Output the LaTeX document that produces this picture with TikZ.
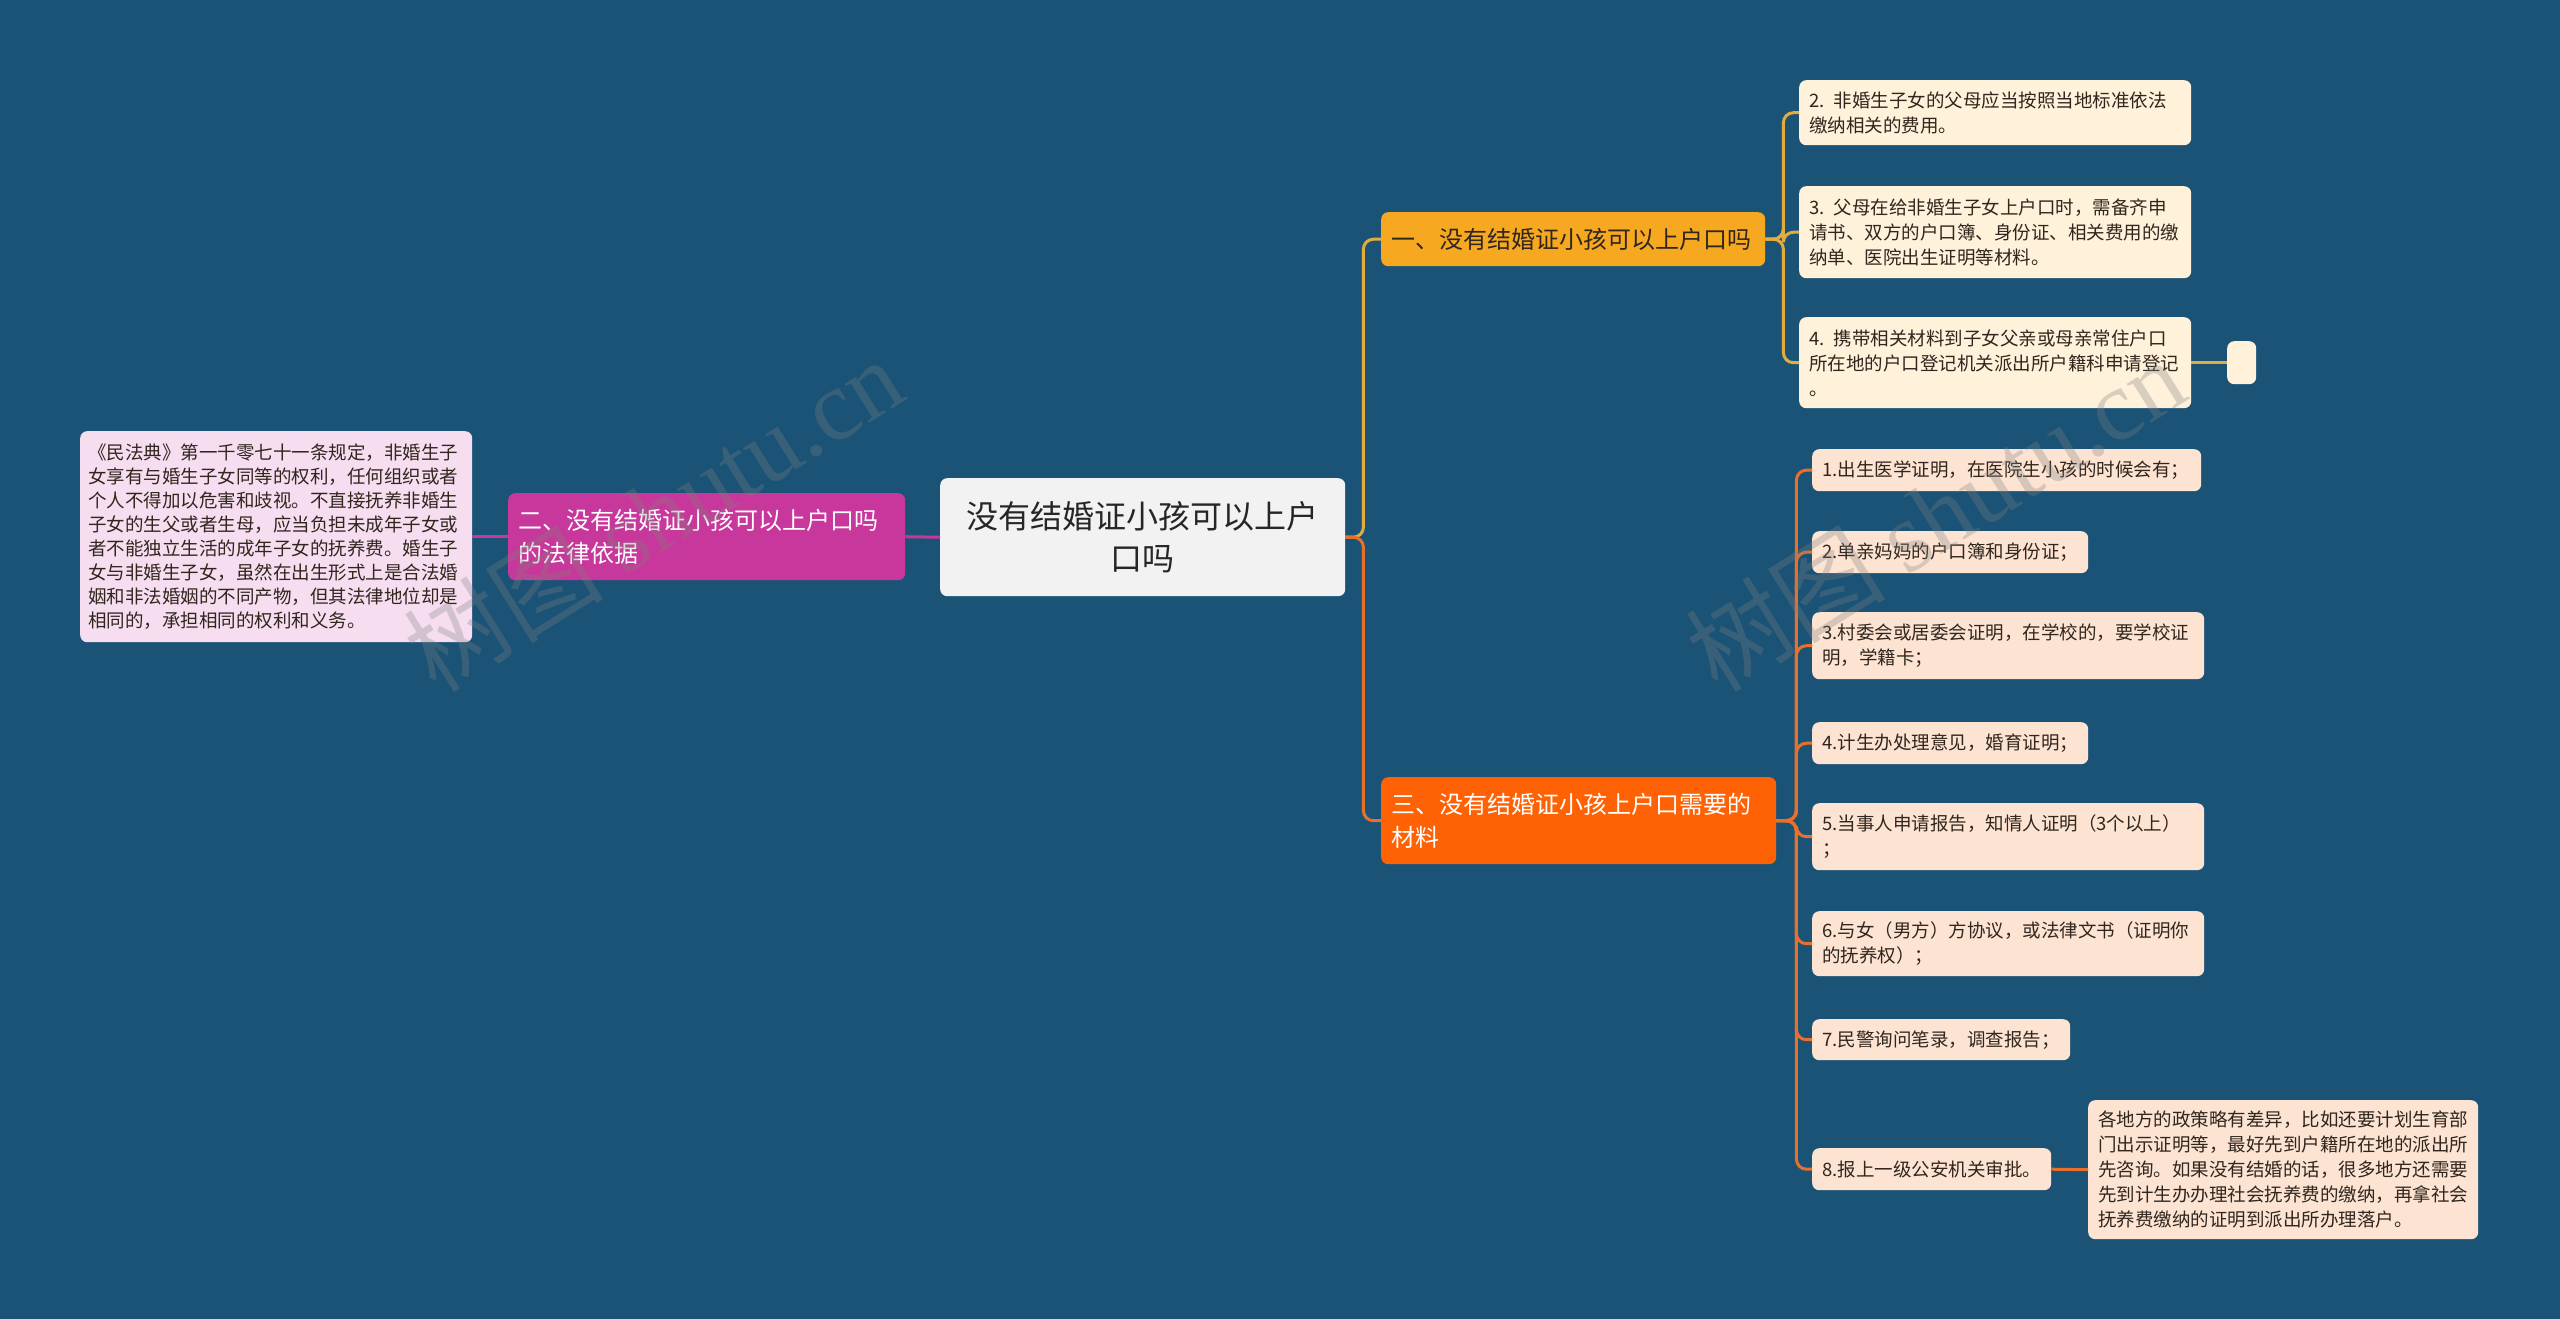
\documentclass[tikz,border=0pt]{standalone}
\usepackage{fontspec}
\setmainfont{Noto Sans CJK SC}
\newfontfamily\wmserif{Liberation Serif}
\definecolor{bg}{RGB}{27,83,119}
\definecolor{rootfill}{RGB}{242,242,242}
\definecolor{magfill}{RGB}{200,55,155}
\definecolor{pinkfill}{RGB}{246,222,240}
\definecolor{goldfill}{RGB}{246,168,32}
\definecolor{orfill}{RGB}{255,98,5}
\definecolor{creamfill}{RGB}{255,241,218}
\definecolor{peachfill}{RGB}{253,227,210}
\definecolor{goldline}{RGB}{226,172,62}
\definecolor{orline}{RGB}{232,112,42}
\definecolor{magline}{RGB}{200,55,155}
\definecolor{darktext}{RGB}{48,38,30}
\tikzset{
  box/.style={rounded corners=7pt, inner xsep=10pt, inner ysep=0pt, anchor=north west, align=left},
  leaftxt/.style={font=\fontsize{18.5}{25}\selectfont, text=darktext},
  cream/.style={box, leaftxt, fill=creamfill},
  peach/.style={box, leaftxt, fill=peachfill},
  conn/.style={line width=3pt, rounded corners=10pt},
  wm/.style={text=gray, opacity=0.3, rotate=32, font=\fontsize{100}{100}\selectfont}
}
\begin{document}
\begin{tikzpicture}[x=1pt,y=-1pt]
\fill[bg] (0,0) rectangle (2560,1319);
\useasboundingbox (0,0) rectangle (2560,1319);

% root
\node[box, align=center, fill=rootfill, text=black!85, font=\fontsize{32}{42}\selectfont,
  minimum width=405pt, minimum height=118pt, text width=385pt] (root) at (940,478)
  {没有结婚证小孩可以上户\\口吗};

% branch two (left)
\node[box, fill=magfill, text=white, font=\fontsize{24}{33}\selectfont,
  minimum width=397pt, minimum height=87pt, text width=377pt] (b2) at (508,493)
  {二、没有结婚证小孩可以上户口吗\\的法律依据};
\node[box, leaftxt, fill=pinkfill, inner xsep=8pt, font=\fontsize{18.5}{24}\selectfont,
  minimum width=392pt, minimum height=211pt, text width=376pt] (ll) at (80,431)
  {《民法典》第一千零七十一条规定，非婚生子\\女享有与婚生子女同等的权利，任何组织或者\\个人不得加以危害和歧视。不直接抚养非婚生\\子女的生父或者生母，应当负担未成年子女或\\者不能独立生活的成年子女的抚养费。婚生子\\女与非婚生子女，虽然在出生形式上是合法婚\\姻和非法婚姻的不同产物，但其法律地位却是\\相同的，承担相同的权利和义务。};

% branch one
\node[box, fill=goldfill, text=darktext, font=\fontsize{24}{33}\selectfont,
  minimum width=384pt, minimum height=54pt, text width=364pt] (b1) at (1381,212)
  {一、没有结婚证小孩可以上户口吗};
\node[cream, minimum width=392pt, minimum height=65pt, text width=372pt] (c2) at (1799,80)
  {2. 非婚生子女的父母应当按照当地标准依法\\缴纳相关的费用。};
\node[cream, minimum width=392pt, minimum height=92pt, text width=372pt] (c3) at (1799,186)
  {3. 父母在给非婚生子女上户口时，需备齐申\\请书、双方的户口簿、身份证、相关费用的缴\\纳单、医院出生证明等材料。};
\node[cream, minimum width=392pt, minimum height=91pt, text width=372pt] (c4) at (1799,317)
  {4. 携带相关材料到子女父亲或母亲常住户口\\所在地的户口登记机关派出所户籍科申请登记\\。};
\node[box, fill=creamfill, inner xsep=0pt, minimum width=29pt, minimum height=43pt] (ce) at (2227,341) {};

% branch three
\node[box, fill=orfill, text=white, font=\fontsize{24}{33}\selectfont,
  minimum width=395pt, minimum height=87pt, text width=375pt] (b3) at (1381,777)
  {三、没有结婚证小孩上户口需要的\\材料};
\node[peach, minimum width=389pt, minimum height=42pt, text width=369pt] (p1) at (1812,449)
  {1.出生医学证明，在医院生小孩的时候会有；};
\node[peach, minimum width=276pt, minimum height=42pt, text width=256pt] (p2) at (1812,531)
  {2.单亲妈妈的户口簿和身份证；};
\node[peach, minimum width=392pt, minimum height=67pt, text width=372pt] (p3) at (1812,612)
  {3.村委会或居委会证明，在学校的，要学校证\\明，学籍卡；};
\node[peach, minimum width=276pt, minimum height=42pt, text width=256pt] (p4) at (1812,722)
  {4.计生办处理意见，婚育证明；};
\node[peach, minimum width=392pt, minimum height=67pt, text width=372pt] (p5) at (1812,803)
  {5.当事人申请报告，知情人证明（3个以上）\\；};
\node[peach, minimum width=392pt, minimum height=65pt, text width=372pt] (p6) at (1812,911)
  {6.与女（男方）方协议，或法律文书（证明你\\的抚养权）；};
\node[peach, minimum width=258pt, minimum height=41pt, text width=238pt] (p7) at (1812,1019)
  {7.民警询问笔录，调查报告；};
\node[peach, minimum width=239pt, minimum height=42pt, text width=219pt] (p8) at (1812,1148)
  {8.报上一级公安机关审批。};
\node[peach, minimum width=390pt, minimum height=139pt, text width=370pt] (p8c) at (2088,1100)
  {各地方的政策略有差异，比如还要计划生育部\\门出示证明等，最好先到户籍所在地的派出所\\先咨询。如果没有结婚的话，很多地方还需要\\先到计生办办理社会抚养费的缴纳，再拿社会\\抚养费缴纳的证明到派出所办理落户。};

% connectors
\begin{scope}[on background layer/.style={}]
\draw[conn, magline] (root.west) -- (b2.east);
\draw[conn, magline] (b2.west) -- (ll.east);
\draw[conn, goldline] (root.east) -- ++(18,0) |- (b1.west);
\draw[conn, orline] (root.east) -- ++(18,0) |- (b3.west);
\foreach \c in {c2,c3,c4} \draw[conn, goldline] (b1.east) -- ++(18,0) |- (\c.west);
\draw[conn, goldline] (c4.east) -- (ce.west);
\foreach \c in {p1,p2,p3,p4,p5,p6,p7,p8} \draw[conn, orline] (b3.east) -- ++(20,0) |- (\c.west);
\draw[conn, orline] (p8.east) -- (p8c.west);
\end{scope}

% watermarks
\node[wm] (wm1) at (653,514) {树图 {\wmserif shutu.cn}};
\node[wm] (wm2) at (1935,514) {树图 {\wmserif shutu.cn}};
\end{tikzpicture}
\end{document}
